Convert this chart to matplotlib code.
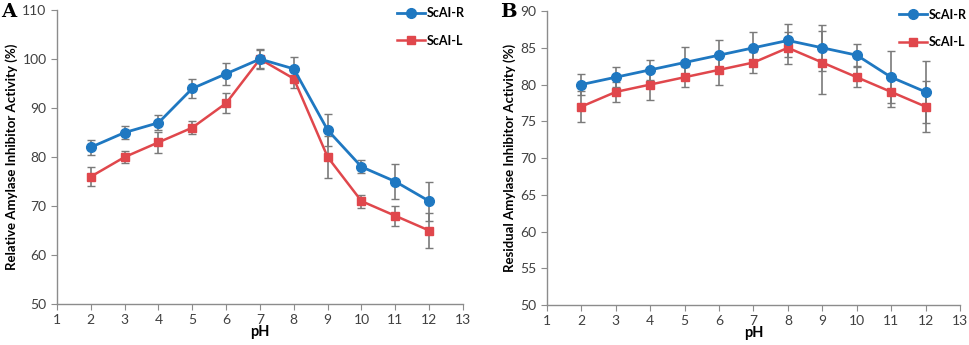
import matplotlib
matplotlib.use('Agg')
import matplotlib.pyplot as plt

plt.rcParams['font.family'] = ['Lato', 'DejaVu Sans']

ph = [2, 3, 4, 5, 6, 7, 8, 9, 10, 11, 12]

# panel A - relative activity
a_r = [82, 85, 87, 94, 97, 100, 98, 85.5, 78, 75, 71]
a_r_err = [1.5, 1.3, 1.5, 2.0, 2.2, 1.8, 2.5, 3.2, 1.3, 3.6, 4.0]
a_l = [76, 80, 83, 86, 91, 100, 96, 80, 71, 68, 65]
a_l_err = [2.0, 1.3, 2.2, 1.3, 2.0, 2.0, 2.0, 4.3, 1.3, 2.0, 3.5]

# panel B - residual activity
b_r = [80, 81, 82, 83, 84, 85, 86, 85, 84, 81, 79]
b_r_err = [1.4, 1.4, 1.4, 2.1, 2.1, 2.2, 2.2, 3.1, 1.5, 3.5, 4.2]
b_l = [77, 79, 80, 81, 82, 83, 85, 83, 81, 79, 77]
b_l_err = [2.1, 1.4, 2.1, 1.4, 2.1, 1.4, 2.2, 4.3, 1.4, 2.0, 3.5]

blue = '#1f78c1'
red = '#e0474c'
grey = '#7a7a7a'

fig = plt.figure(figsize=(9.69, 3.45), dpi=100)
ax1 = fig.add_axes([0.0588, 0.1188, 0.419, 0.852])
ax2 = fig.add_axes([0.5645, 0.1159, 0.4262, 0.852])


def draw(ax, r, r_err, l, l_err, ylim, yticks, ylabel, leg_xy):
    ax.errorbar(ph, r, yerr=r_err, fmt='none', ecolor=grey, elinewidth=1.2, capsize=3, capthick=1, zorder=1)
    ax.errorbar(ph, l, yerr=l_err, fmt='none', ecolor=grey, elinewidth=1.2, capsize=3, capthick=1, zorder=1)
    ax.plot(ph, r, color=blue, linewidth=2, marker='o', markersize=7, label='ScAI-R', zorder=3)
    ax.plot(ph, l, color=red, linewidth=1.8, marker='s', markersize=6, label='ScAI-L', zorder=2)

    ax.set_xlim(1, 13)
    ax.set_ylim(*ylim)
    ax.set_xticks(range(1, 14))
    ax.set_yticks(yticks)
    for s in ['top', 'right']:
        ax.spines[s].set_visible(False)
    for s in ['left', 'bottom']:
        ax.spines[s].set_color('#8c8c8c')
        ax.spines[s].set_linewidth(1)
    ax.tick_params(direction='out', length=4, color='#8c8c8c', labelsize=10, labelcolor='#404040')
    ax.set_xlabel('pH', fontsize=10.5, fontweight='bold', labelpad=-1)
    ax.set_ylabel(ylabel, fontsize=9.5, fontweight='bold', labelpad=3)
    ax.legend(loc='center left', bbox_to_anchor=leg_xy, bbox_transform=fig.transFigure,
              frameon=False, handlelength=2.2, labelspacing=1.25, handletextpad=0.15,
              borderaxespad=0, borderpad=0, prop={'weight': 'bold', 'size': 9})


draw(ax1, a_r, a_r_err, a_l, a_l_err, (50, 110), range(50, 111, 10),
     'Relative Amylase Inhibitor Activity (%)', (0.410, 0.922))
draw(ax2, b_r, b_r_err, b_l, b_l_err, (50, 90), range(50, 91, 5),
     'Residual Amylase Inhibitor Activity (%)', (0.928, 0.917))

fig.text(0.001, 0.965, 'A', fontsize=14, fontweight='bold', family='DejaVu Serif', va='center')
fig.text(0.516, 0.965, 'B', fontsize=14, fontweight='bold', family='DejaVu Serif', va='center')

fig.savefig('out.png', dpi=100)
